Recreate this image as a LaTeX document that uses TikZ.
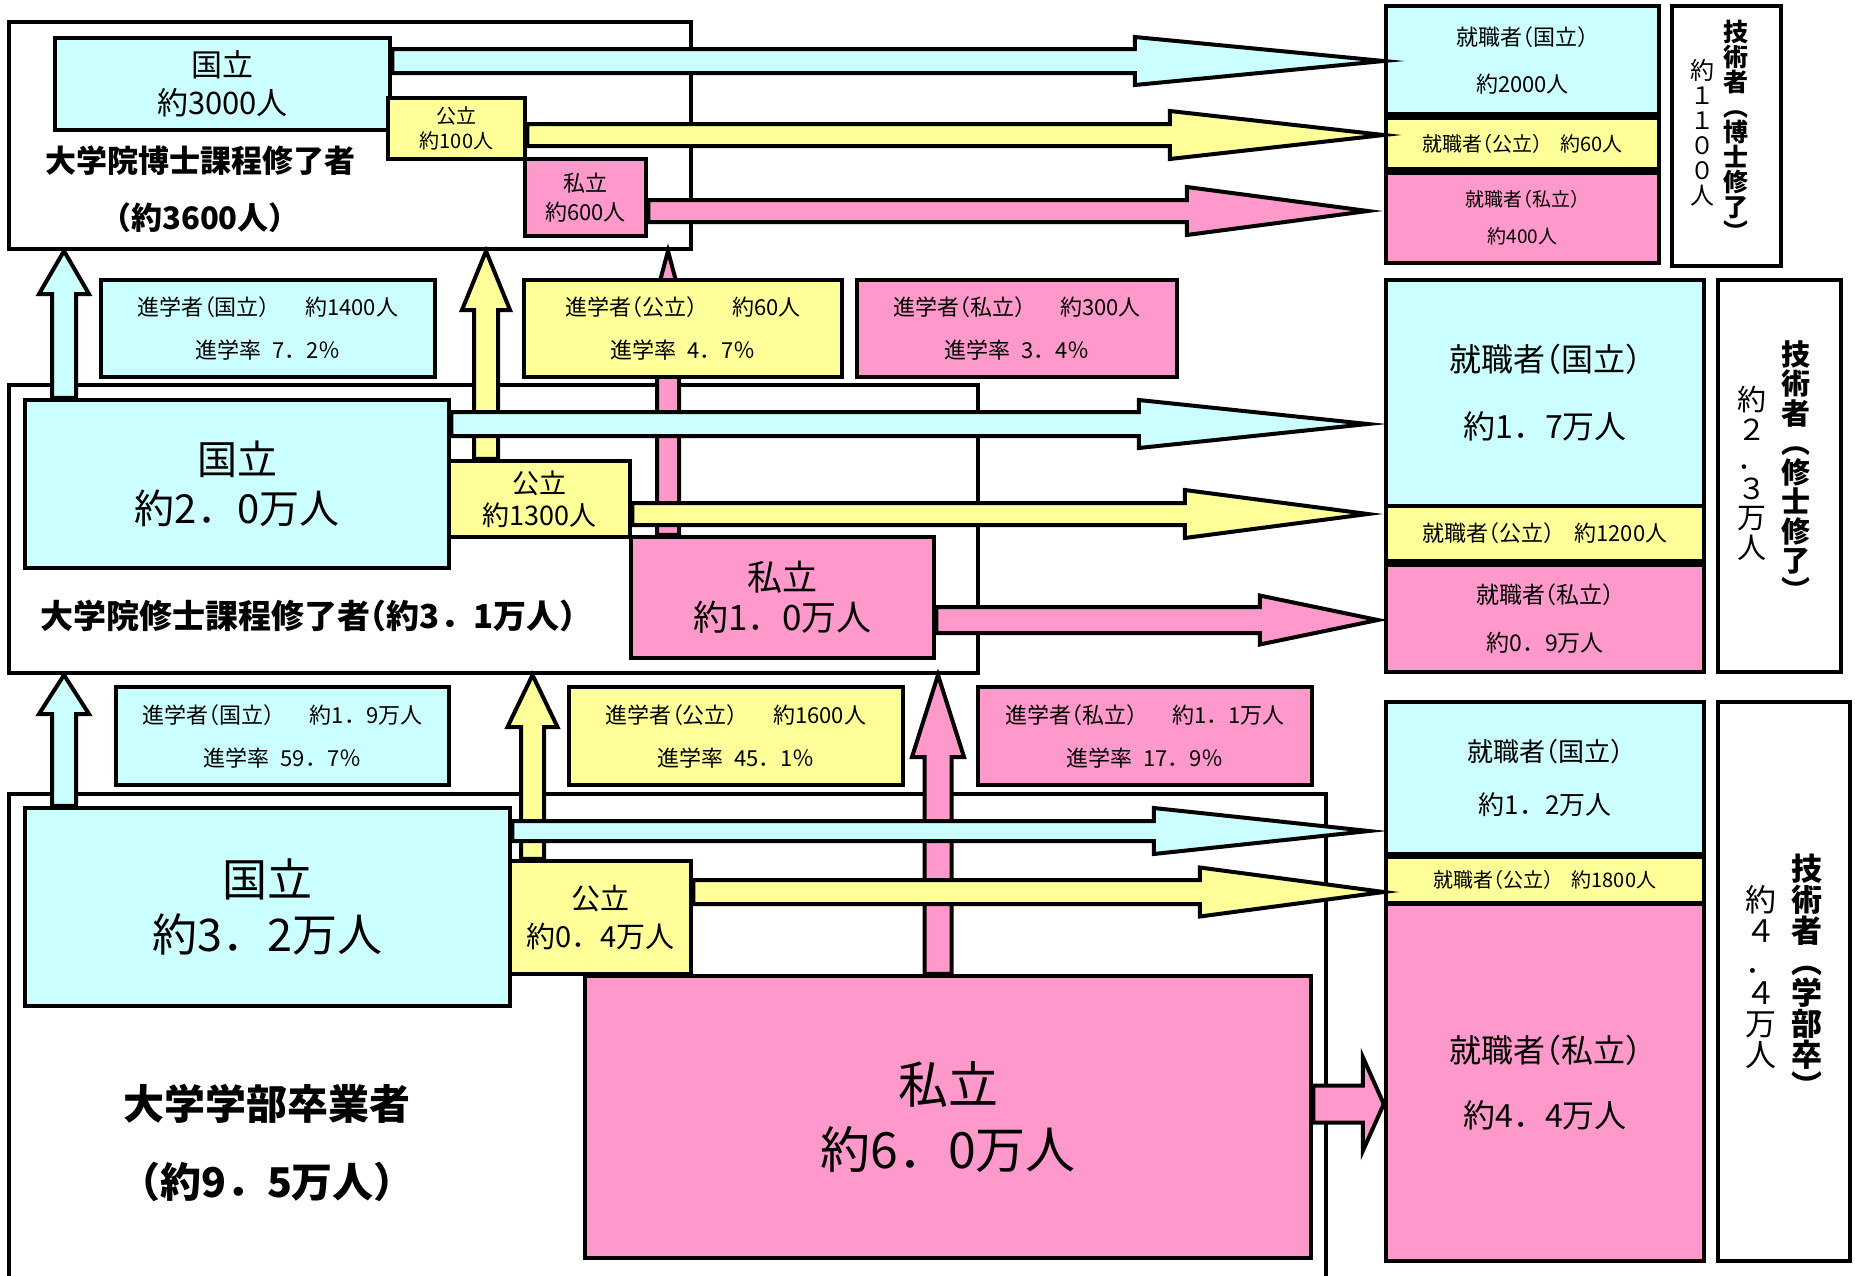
\documentclass[tikz,border=0pt]{standalone}
\usepackage{fontspec}
\setmainfont{Noto Sans CJK JP}
\newfontfamily\hw{Noto Sans CJK JP}[RawFeature=+halt]
\usetikzlibrary{calc}
\definecolor{kuni}{RGB}{204,255,255}
\definecolor{kou}{RGB}{255,255,153}
\definecolor{shi}{RGB}{255,153,204}
\newcommand{\fsz}[2]{\fontsize{#1}{#2}\selectfont\lineskiplimit=-100pt}
\newcommand{\kl}{{\hw （}}
\newcommand{\kr}{{\hw ）}}
% fat arrows: colour, start, tip, shaft half width, head half width, head length
\newcommand{\harrow}[6]{%
  \path[draw,fill=#1,line width=4pt,miter limit=25] let \p1=#2, \p2=#3 in
    (\x1,\y1+#4pt) -- (\x2-#6pt,\y1+#4pt) -- (\x2-#6pt,\y1+#5pt) -- (\x2,\y1)
    -- (\x2-#6pt,\y1-#5pt) -- (\x2-#6pt,\y1-#4pt) -- (\x1,\y1-#4pt) -- cycle;}
\newcommand{\varrow}[6]{%
  \path[draw,fill=#1,line width=4pt,miter limit=25] let \p1=#2, \p2=#3 in
    (\x1-#4pt,\y1) -- (\x1-#4pt,\y2-#6pt) -- (\x1-#5pt,\y2-#6pt) -- (\x1,\y2)
    -- (\x1+#5pt,\y2-#6pt) -- (\x1+#4pt,\y2-#6pt) -- (\x1+#4pt,\y1) -- cycle;}
\begin{document}
\begin{tikzpicture}[x=1pt,y=-1pt]
  \tikzstyle{outerbox}=[draw,line width=4pt,fill=white,inner sep=0pt]
  \tikzstyle{unibox}=[draw,line width=4.5pt,inner sep=0pt,align=center]
  \tikzstyle{kokuritsu}=[unibox,fill=kuni]
  \tikzstyle{kouritsu}=[unibox,fill=kou]
  \tikzstyle{shiritsu}=[unibox,fill=shi]
  \tikzstyle{tate}=[draw,line width=4pt,inner sep=0pt,fill=white]
  \tikzstyle{column}=[inner sep=0pt,align=center,anchor=north]
  \useasboundingbox[fill=white] (0,0) rectangle (1855,1275);

  % job boxes on the right
  \node[kokuritsu,minimum width=273,minimum height=108,font=\fsz{22}{47}] (jdk) at (1522.5,60) {就職者\kl 国立\kr\\約2000人};
  \node[kouritsu,minimum width=273,minimum height=51,font=\fsz{20}{20}] (jdc) at (1522.5,143.5) {就職者\kl 公立\kr\hspace{0.9em}約60人};
  \node[shiritsu,minimum width=273,minimum height=90,font=\fsz{19}{37}] (jds) at (1522.5,218) {就職者\kl 私立\kr\\約400人};
  \node[tate,minimum width=109,minimum height=260] (ld) at (1726.5,136) {};
  \node[column,font=\fsz{25}{25}\bfseries] (ld1) at (1736,20) {技\\術\\者\\︵\\博\\士\\修\\了\\︶};
  \node[column,font=\fsz{24}{25}] (ld2) at (1702,59) {約\\１\\１\\０\\０\\人};

  \node[kokuritsu,minimum width=318,minimum height=226,font=\fsz{32}{67}] (jmk) at (1545,393) {就職者\kl 国立\kr\\約1．7万人};
  \node[kouritsu,minimum width=318,minimum height=55,font=\fsz{22}{22}] (jmc) at (1545,533.5) {就職者\kl 公立\kr\hspace{0.9em}約1200人};
  \node[shiritsu,minimum width=318,minimum height=107,font=\fsz{23}{48}] (jms) at (1545,618.5) {就職者\kl 私立\kr\\約0．9万人};
  \node[tate,minimum width=123,minimum height=392] (lm) at (1779.5,476) {};
  \node[column,font=\fsz{29}{29.5}\bfseries] (lm1) at (1796,340) {技\\術\\者\\︵\\修\\士\\修\\了\\︶};
  \node[column,font=\fsz{29}{29.5}] (lm2) at (1752,386) {約\\２\\．\\３\\万\\人};

  \node[kokuritsu,minimum width=318,minimum height=152,font=\fsz{26}{53}] (juk) at (1545,778) {就職者\kl 国立\kr\\約1．2万人};
  \node[kouritsu,minimum width=318,minimum height=46,font=\fsz{20}{20}] (juc) at (1545,880) {就職者\kl 公立\kr\hspace{0.9em}約1800人};
  \node[shiritsu,minimum width=318,minimum height=357,font=\fsz{32}{65}] (jus) at (1545,1082.5) {就職者\kl 私立\kr\\約4．4万人};
  \node[tate,minimum width=132,minimum height=559] (lu) at (1784,981.5) {};
  \node[column,font=\fsz{31}{31}\bfseries] (lu1) at (1807,854) {技\\術\\者\\︵\\学\\部\\卒\\︶};
  \node[column,font=\fsz{31}{31}] (lu2) at (1761,885) {約\\４\\．\\４\\万\\人};

  % graduates
  \node[outerbox,minimum width=682,minimum height=227] (fd) at (350,135.5) {};
  \node[outerbox,minimum width=969,minimum height=288] (fm) at (493.5,529) {};
  \node[outerbox,minimum width=1317,minimum height=526] (fu) at (667.5,1057) {};
  \node[align=center,font=\fsz{31}{57}\bfseries] (td) at (200,189.5) {大学院博士課程修了者\\\kl 約3600人\kr};
  \node[font=\fsz{33}{37}\bfseries] (tm) at (308,616) {大学院修士課程修了者\kl 約3．1万人\kr};
  \node[align=center,font=\fsz{41}{78}\bfseries] (tu) at (267,1143) {大学学部卒業者\\\kl 約9．5万人\kr};

  \node[kokuritsu,minimum width=335,minimum height=92,font=\fsz{31}{38}] (pk) at (222.5,84) {国立\\約3000人};
  \node[kouritsu,minimum width=137,minimum height=61,font=\fsz{20}{25}] (pc) at (456.5,128.5) {公立\\約100人};
  \node[shiritsu,minimum width=121,minimum height=77,font=\fsz{22}{29}] (ps) at (585.5,197.5) {私立\\約600人};
  \node[kokuritsu,minimum width=424,minimum height=168,font=\fsz{40}{49}] (mk) at (237,484) {国立\\約2．0万人};
  \node[kouritsu,minimum width=181,minimum height=76,font=\fsz{27}{32}] (mc) at (539.5,499) {公立\\約1300人};
  \node[shiritsu,minimum width=303,minimum height=121,font=\fsz{35}{40}] (ms) at (782.5,597.5) {私立\\約1．0万人};
  \node[kokuritsu,minimum width=485,minimum height=198,font=\fsz{45}{55}] (uk) at (267.5,907) {国立\\約3．2万人};
  \node[kouritsu,minimum width=181,minimum height=113,font=\fsz{29}{38}] (uc) at (600.5,917.5) {公立\\約0．4万人};
  \node[shiritsu,minimum width=726,minimum height=282,font=\fsz{50}{65}] (us) at (948,1117) {私立\\約6．0万人};

  % going on to graduate school
  \coordinate (xa) at (64,0);
  \coordinate (xb) at (486,0);
  \coordinate (xc) at (668,0);
  \coordinate (xe) at (532.5,0);
  \coordinate (xf) at (938,0);
  \varrow{kuni}{(mk.north -| xa)}{(fd.south -| xa)}{12}{25}{43}
  \varrow{kou}{(mc.north -| xb)}{(fd.south -| xb)}{12}{24}{59}
  \varrow{shi}{(ms.north -| xc)}{(fd.south -| xc)}{11}{20}{75}
  \varrow{kuni}{(uk.north -| xa)}{(fm.south -| xa)}{12}{25}{39}
  \varrow{kou}{(uc.north -| xe)}{(fm.south -| xe)}{11.5}{25}{52}
  \varrow{shi}{(us.north -| xf)}{(fm.south -| xf)}{13.5}{26}{82}

  \tikzstyle{info}=[unibox,minimum width=334,minimum height=97,font=\fsz{22}{43}]
  \node[info,fill=kuni] (ik2) at (268,328.5) {進学者\kl 国立\kr\hspace{1.6em}約1400人\\進学率\enspace 7．2％};
  \node[info,fill=kou,minimum width=318] (ic2) at (683,328.5) {進学者\kl 公立\kr\hspace{1.6em}約60人\\進学率\enspace 4．7％};
  \node[info,fill=shi,minimum width=320] (is2) at (1017,328.5) {進学者\kl 私立\kr\hspace{1.6em}約300人\\進学率\enspace 3．4％};
  \node[info,fill=kuni,minimum width=333,minimum height=98] (ik1) at (282.5,736) {進学者\kl 国立\kr\hspace{1.6em}約1．9万人\\進学率\enspace 59．7％};
  \node[info,fill=kou,minimum height=98] (ic1) at (736,736) {進学者\kl 公立\kr\hspace{1.6em}約1600人\\進学率\enspace 45．1％};
  \node[info,fill=shi,minimum height=98] (is1) at (1145,736) {進学者\kl 私立\kr\hspace{1.6em}約1．1万人\\進学率\enspace 17．9％};

  % going into jobs
  \coordinate (yda) at (0,61);
  \coordinate (ydb) at (0,135);
  \coordinate (ydc) at (0,211);
  \coordinate (yma) at (0,424);
  \coordinate (ymb) at (0,514);
  \coordinate (ymc) at (0,620);
  \coordinate (yua) at (0,831);
  \coordinate (yub) at (0,892);
  \coordinate (yuc) at (0,1104);
  \harrow{kuni}{(pk.east |- yda)}{(jdk.west |- yda)}{12}{24}{249}
  \harrow{kou}{(pc.east |- ydb)}{(jdc.west |- ydb)}{11}{24}{214}
  \harrow{shi}{(ps.east |- ydc)}{($(jds.west |- ydc)+(-16,0)$)}{11}{24}{181}
  \harrow{kuni}{(mk.east |- yma)}{($(jmk.west |- yma)+(-16,0)$)}{12}{24}{229}
  \harrow{kou}{(mc.east |- ymb)}{($(jmc.west |- ymb)+(-16,0)$)}{11}{24}{183}
  \harrow{shi}{(ms.east |- ymc)}{($(jms.west |- ymc)+(-6,0)$)}{13}{24.5}{118}
  \harrow{kuni}{(uk.east |- yua)}{($(juk.west |- yua)+(-15,0)$)}{10}{23}{215}
  \harrow{kou}{(uc.east |- yub)}{(juc.west |- yub)}{12}{24.5}{184}
  \harrow{shi}{(us.east |- yuc)}{(jus.west |- yuc)}{18.5}{47}{21}
\end{tikzpicture}
\end{document}
